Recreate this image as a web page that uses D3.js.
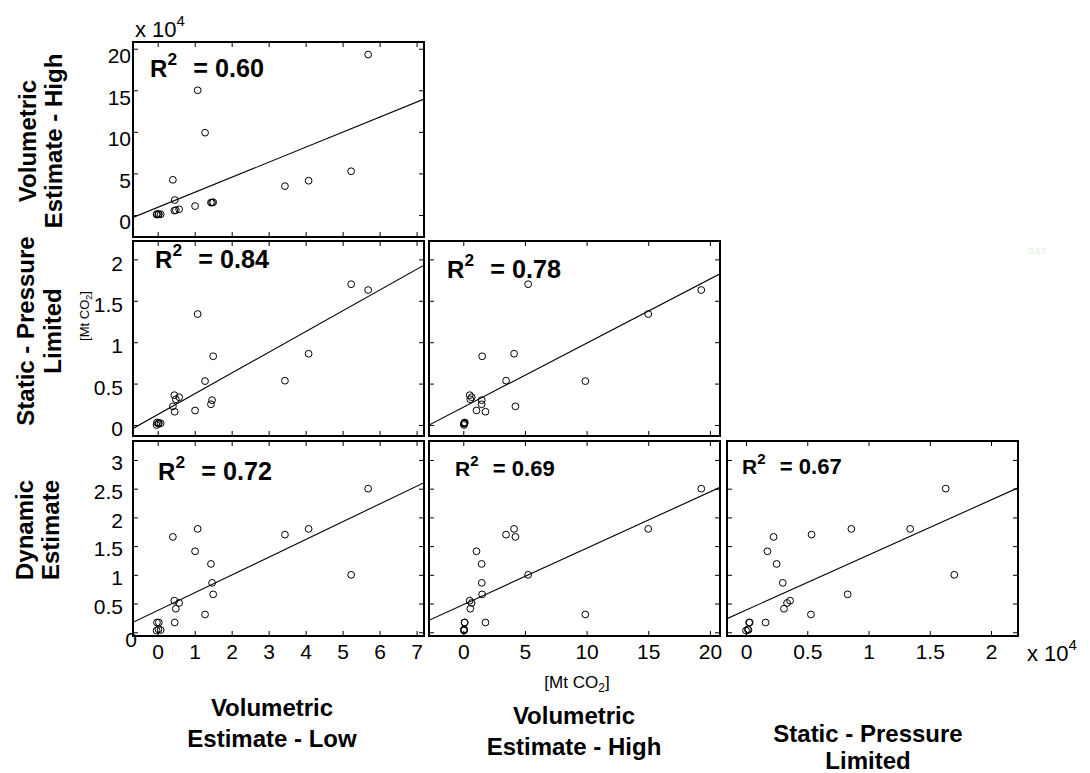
<!DOCTYPE html>
<html><head><meta charset="utf-8">
<script src="https://cdn.jsdelivr.net/npm/d3@7"></script>
<style>
body{margin:0;background:#fff}
text{font-family:"Liberation Sans",Arial,Helvetica,sans-serif;fill:#000}
</style>
</head><body>
<svg id="chart" width="1090" height="773"></svg>
<script>
// ---- data (values in units of 10^4 Mt CO2) ----
const volumetricLow  = [5.69, 1.08, 1.28, 5.23, 4.08, 0.41, 3.44, 0.46, 1.44, 1.47, 1.50, 1.01, 0.58, 0.45, 0.49, -0.02, 0.03, -0.03, 0.02, 0.08];
const volumetricHigh = [19.3, 15.0, 9.9, 5.26, 4.12, 4.23, 3.47, 1.80, 1.49, 1.50, 1.53, 1.07, 0.68, 0.52, 0.57, 0.12, 0.10, 0.05, 0.06, 0.08];
const staticPressure = [1.63, 1.34, 0.53, 1.70, 0.86, 0.225, 0.535, 0.16, 0.25, 0.30, 0.83, 0.175, 0.335, 0.36, 0.31, 0.03, 0.025, 0.0, 0.015, 0.02];
const dynamicEst     = [2.50, 1.80, 0.31, 1.00, 1.80, 1.66, 1.70, 0.17, 1.19, 0.86, 0.66, 1.41, 0.51, 0.55, 0.41, 0.17, 0.17, 0.03, 0.05, 0.04];

const rowLabels = [["Volumetric", "Estimate - High"], ["Static - Pressure", "Limited"], ["Dynamic", "Estimate"]];
const colLabels = [["Volumetric", "Estimate - Low"], ["Volumetric", "Estimate - High"], ["Static - Pressure", "Limited"]];

const r2Labels      = ["0.60", "0.84", "0.78", "0.72", "0.69", "0.67"];
const fitSlopes     = [1.81, 0.2506, 0.0774, 0.309, 0.0981, 0.9587];
const fitIntercepts = [0.91, 0.125, 0.214, 0.379, 0.481, 0.386];

const xTicks = [[0,1,2,3,4,5,6,7], [0,5,10,15,20], [0,0.5,1,1.5,2]];
const yTicks = [[0,5,10,15,20], [0,0.5,1,1.5,2], [0,0.5,1,1.5,2,2.5,3]];
const xTickLabels = [["0","1","2","3","4","5","6","7"], ["0","5","10","15","20"], ["0","0.5","1","1.5","2"]];
const yTickLabels = [["0","5","10","15","20"], ["0","0.5","1","1.5","2"], ["0","0.5","1","1.5","2","2.5","3"]];

// ---- layout ----
const colData = [volumetricLow, volumetricHigh, staticPressure];
const rowData = [volumetricHigh, staticPressure, dynamicEst];
const xDomains = [[-0.668, 7.2], [-2.78, 20.82], [-0.155, 2.22]];
const yDomains = [[-2.65, 20.81], [-0.133, 2.222], [-0.065, 3.33]];
const colLeft = [133, 429, 727], rowTop = [42, 241, 441], W = 291, H = 195;
// panels: [row, col]
const panels = [[0,0],[1,0],[1,1],[2,0],[2,1],[2,2]];
const r2Pos = [[17,35,24],[22,27,24],[18,37,24],[25,39,24],[26,35,21],[15,33,21]];
const yLabelPad = [2, 10, 10], yLabelDy = [7, 4, 3];

const svg = d3.select("#chart");
const xs = xDomains.map((d,i) => d3.scaleLinear().domain(d).range([colLeft[i], colLeft[i]+W]));
const ys = yDomains.map((d,i) => d3.scaleLinear().domain(d).range([rowTop[i]+H, rowTop[i]]));

const defs = svg.append("defs");

panels.forEach(([r,c], pi) => {
  const x = xs[c], y = ys[r];
  const g = svg.append("g");
  const cid = "clip" + pi;
  defs.append("clipPath").attr("id", cid).append("rect")
    .attr("x", colLeft[c]).attr("y", rowTop[r]).attr("width", W).attr("height", H);

  // ticks (inside, all four sides)
  const mk = (axisFn, scale, ticks, labels, tx, ty, showLabels, pad) => {
    const a = axisFn(scale).tickValues(ticks).tickSizeInner(-5).tickSizeOuter(0).tickPadding(pad)
      .tickFormat((d,i) => showLabels ? labels[i] : "");
    const ag = g.append("g").attr("transform", `translate(${tx},${ty})`).call(a);
    ag.select(".domain").remove();
    ag.selectAll("line").attr("stroke", "#000").attr("stroke-width", 1);
    ag.selectAll("text").attr("font-size", 21).attr("fill", "#000")
      .attr("font-family", '"Liberation Sans",Arial,sans-serif');
    return ag;
  };
  mk(d3.axisTop, x, xTicks[c], xTickLabels[c], 0, rowTop[r], false, 3);
  mk(d3.axisBottom, x, xTicks[c], xTickLabels[c], 0, rowTop[r]+H, r === 2, 8);
  const yl = mk(d3.axisLeft, y, yTicks[r], yTickLabels[r], colLeft[c], 0, c === 0, yLabelPad[r]);
  mk(d3.axisRight, y, yTicks[r], yTickLabels[r], colLeft[c]+W, 0, false, 3);
  if (c === 0) {
    yl.selectAll("text").attr("transform", `translate(0,${yLabelDy[r]})`);
    if (r === 2) {
      yl.selectAll(".tick").filter(d => d === 0).select("text")
        .attr("text-anchor", "middle").attr("x", -2).attr("transform", "translate(0,7)");
    }
  }

  // regression line
  const a = fitIntercepts[pi], b = fitSlopes[pi];
  const dom = x.domain();
  g.append("line").attr("clip-path", `url(#${cid})`)
    .attr("x1", x(dom[0])).attr("y1", y(a + b*dom[0]))
    .attr("x2", x(dom[1])).attr("y2", y(a + b*dom[1]))
    .attr("stroke", "#000").attr("stroke-width", 1.1);

  // points
  const xv = colData[c], yv = rowData[r];
  g.selectAll("circle").data(xv.map((v,i) => [v, yv[i]])).join("circle")
    .attr("cx", d => x(d[0])).attr("cy", d => y(d[1])).attr("r", 3.4)
    .attr("fill", "none").attr("stroke", "#000").attr("stroke-width", 1);

  // frame
  g.append("rect").attr("x", colLeft[c]).attr("y", rowTop[r]).attr("width", W).attr("height", H)
    .attr("fill", "none").attr("stroke", "#000").attr("stroke-width", 2);

  // R^2 label
  const [ox, oy, s] = r2Pos[pi];
  const bx = colLeft[c] + ox, by = rowTop[r] + oy;
  g.append("text").attr("x", bx).attr("y", by).attr("font-size", s).attr("font-weight", "bold").text("R");
  g.append("text").attr("x", bx + 0.73*s).attr("y", by - 0.5*s).attr("font-size", 0.72*s).attr("font-weight", "bold").text("2");
  g.append("text").attr("x", bx + 1.8*s).attr("y", by).attr("font-size", 1.05*s).attr("font-weight", "bold")
    .text("= " + r2Labels[pi]);
});

// row labels (rotated)
const rowBase = [[36,62],[34,61],[33,59]], rowCenter = [141, 331, 530];
rowLabels.forEach((lines, r) => {
  lines.forEach((t, k) => {
    svg.append("text").attr("transform", `translate(${rowBase[r][k]},${rowCenter[r]}) rotate(-90)`)
      .attr("text-anchor", "middle").attr("font-size", 24).attr("font-weight", "bold").text(t);
  });
});

// column labels
const colCenter = [272, 574, 868], colBase = [[716,747],[724,755],[742,769]];
colLabels.forEach((lines, c) => {
  lines.forEach((t, k) => {
    svg.append("text").attr("x", colCenter[c]).attr("y", colBase[c][k])
      .attr("text-anchor", "middle").attr("font-size", 24).attr("font-weight", "bold").text(t);
  });
});

// unit labels
const unitBottom = svg.append("text").attr("x", 577).attr("y", 688).attr("text-anchor", "middle").attr("font-size", 17);
unitBottom.append("tspan").text("[Mt CO");
unitBottom.append("tspan").attr("font-size", 12).attr("dy", 4).text("2");
unitBottom.append("tspan").attr("dy", -4).text("]");

const unitLeft = svg.append("text").attr("transform", "translate(89,316) rotate(-90)").attr("text-anchor", "middle").attr("font-size", 13);
unitLeft.append("tspan").text("[Mt CO");
unitLeft.append("tspan").attr("font-size", 9).attr("dy", 3).text("2");
unitLeft.append("tspan").attr("dy", -3).text("]");

// exponent labels
const expo = (x, y) => {
  const t = svg.append("text").attr("x", x).attr("y", y).attr("font-size", 22);
  t.append("tspan").text("x 10");
  t.append("tspan").attr("font-size", 15).attr("dy", -11).text("4");
};
expo(135, 37);
expo(1027, 661);

// faint stray label
svg.append("text").attr("x", 1028).attr("y", 254).attr("font-size", 9).style("fill", "#d6f5d6").text("0.67");
</script>
</body></html>
